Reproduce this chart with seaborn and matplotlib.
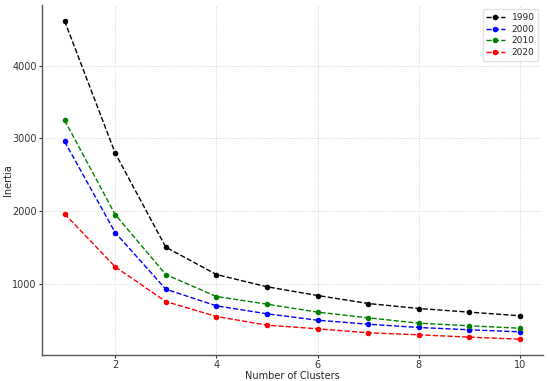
import numpy as np
import pandas as pd
import matplotlib
matplotlib.use("Agg")
import matplotlib.pyplot as plt
import seaborn as sns

# --- data ---
clusters = [1, 2, 3, 4, 5, 6, 7, 8, 9, 10]
years = ["1990", "2000", "2010", "2020"]
inertia_1990 = [4615, 2795, 1500, 1124, 955, 835, 725, 656, 606, 556]
inertia_2000 = [2955, 1701, 922, 693, 583, 495, 440, 395, 363, 335]
inertia_2010 = [3248, 1949, 1124, 821, 716, 606, 528, 454, 418, 385]
inertia_2020 = [1959, 1230, 752, 546, 427, 377, 322, 294, 262, 234]
colors = ["black", "blue", "green", "red"]

series = [inertia_1990, inertia_2000, inertia_2010, inertia_2020]
df = pd.concat(
    [pd.DataFrame({"clusters": clusters, "inertia": vals, "year": yr})
     for yr, vals in zip(years, series)],
    ignore_index=True,
)

sns.set_style("whitegrid")
plt.rcParams["font.family"] = ["DejaVu Sans"]

fig = plt.figure(figsize=(5.5, 3.81), dpi=100)
ax = fig.add_axes([0.076, 0.068, 0.911, 0.919])

for yr, c in zip(years, colors):
    sub = df[df["year"] == yr]
    sns.lineplot(data=sub, x="clusters", y="inertia", ax=ax, color=c,
                 linestyle="--", linewidth=1.0, marker="o", markersize=4,
                 markeredgewidth=0, label=yr)

ax.grid(True, linestyle=(0, (1, 1.5)), color="#d4d4d4", linewidth=0.7)
for s in ["top", "right"]:
    ax.spines[s].set_visible(False)
for s in ["left", "bottom"]:
    ax.spines[s].set_color("#555555")
    ax.spines[s].set_linewidth(1.0)

ax.set_xticks([2, 4, 6, 8, 10])
ax.set_yticks([1000, 2000, 3000, 4000])
ax.tick_params(labelsize=7, length=2, width=0.8, pad=1.5, colors="#333333",
               bottom=True, left=True)
ax.set_xlabel("Number of Clusters", fontsize=7)
ax.set_ylabel("Inertia", fontsize=7)
ax.xaxis.set_label_coords(0.5, -0.045)
ax.yaxis.set_label_coords(-0.058, 0.5)

leg = ax.legend(loc="upper right", fontsize=6.5, frameon=True, handlelength=2,
                borderpad=0.4, labelspacing=0.3)
leg.get_frame().set_edgecolor("#dddddd")

fig.savefig("out.png", dpi=100)
